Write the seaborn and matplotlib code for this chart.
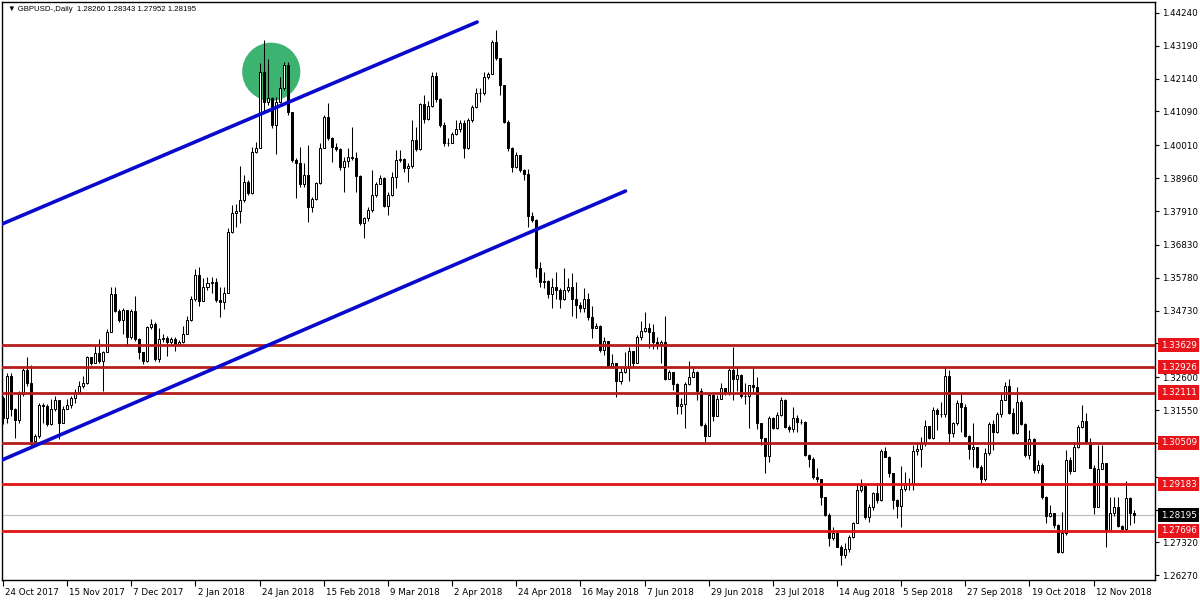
import matplotlib
matplotlib.use("Agg")
import matplotlib.pyplot as plt
import matplotlib.transforms as mtransforms
from matplotlib.patches import Ellipse
import numpy as np
import seaborn as sns

# GBPUSD daily candles (open = previous close)
first_open = 1.3195
closes = [
    1.3131, 1.3265, 1.3158, 1.3123, 1.3206, 1.3284, 1.3243, 1.3056, 1.3072, 1.3170,
    1.3168, 1.3112, 1.3158, 1.3188, 1.3115, 1.3160, 1.3170, 1.3192, 1.3213, 1.3233,
    1.3240, 1.3323, 1.3307, 1.3336, 1.3313, 1.3339, 1.3406, 1.3527, 1.3473, 1.3444,
    1.3475, 1.3388, 1.3473, 1.3382, 1.3339, 1.3313, 1.3420, 1.3430, 1.3318, 1.3382,
    1.3384, 1.3372, 1.3382, 1.3366, 1.3372, 1.3398, 1.3444, 1.3509, 1.3585, 1.3505,
    1.3547, 1.3560, 1.3564, 1.3507, 1.3501, 1.3530, 1.3725, 1.3786, 1.3792, 1.3826,
    1.3885, 1.3847, 1.3981, 1.3991, 1.4236, 1.4140, 1.4151, 1.4066, 1.4140, 1.4183,
    1.4257, 1.4108, 1.3954, 1.3943, 1.3877, 1.3906, 1.3805, 1.3828, 1.3881, 1.3991,
    1.4090, 1.4023, 1.3994, 1.3988, 1.3933, 1.3951, 1.3962, 1.3959, 1.3903, 1.3752,
    1.3768, 1.3794, 1.3842, 1.3877, 1.3895, 1.3807, 1.3842, 1.3901, 1.3954, 1.3956,
    1.3929, 1.3935, 1.4018, 1.3989, 1.4132, 1.4085, 1.4126, 1.4222, 1.4149, 1.4066,
    1.4007, 1.4008, 1.4036, 1.4053, 1.4073, 1.3993, 1.4082, 1.4124, 1.4167, 1.4168,
    1.4218, 1.4228, 1.4332, 1.4281, 1.4194, 1.4076, 1.3993, 1.3933, 1.3970, 1.3922,
    1.3908, 1.3776, 1.3763, 1.3608, 1.3565, 1.3567, 1.3525, 1.3549, 1.3539, 1.3510,
    1.3539, 1.3549, 1.3510, 1.3491, 1.3482, 1.3510, 1.3451, 1.3416, 1.3424, 1.3347,
    1.3376, 1.3296, 1.3304, 1.3249, 1.3277, 1.3288, 1.3345, 1.3307, 1.3390, 1.3409,
    1.3416, 1.3403, 1.3374, 1.3365, 1.3374, 1.3253, 1.3278, 1.3238, 1.3169, 1.3173,
    1.3238, 1.3262, 1.3278, 1.3217, 1.3107, 1.3072, 1.3203, 1.3137, 1.3189, 1.3227,
    1.3214, 1.3283, 1.3253, 1.3267, 1.3200, 1.3201, 1.3235, 1.3230, 1.3113, 1.3065,
    1.3008, 1.3129, 1.3097, 1.3139, 1.3187, 1.3102, 1.3093, 1.3129, 1.3118, 1.3117,
    1.3011, 1.2998, 1.2940, 1.2934, 1.2878, 1.2820, 1.2745, 1.2763, 1.2719, 1.2692,
    1.2710, 1.2751, 1.2795, 1.2900, 1.2913, 1.2812, 1.2846, 1.2889, 1.2868, 1.3025,
    1.3006, 1.2955, 1.2868, 1.2850, 1.2902, 1.2921, 1.2921, 1.3025, 1.3030, 1.3049,
    1.3104, 1.3065, 1.3155, 1.3141, 1.3142, 1.3264, 1.3081, 1.3113, 1.3179, 1.3166,
    1.3072, 1.3030, 1.3036, 1.2974, 1.2935, 1.3019, 1.3109, 1.3086, 1.3142, 1.3187,
    1.3232, 1.3147, 1.3081, 1.3182, 1.3109, 1.3011, 1.3062, 1.2964, 1.2980, 1.2876,
    1.2815, 1.2825, 1.2788, 1.2703, 1.2761, 1.2995, 1.2961, 1.3038, 1.3102, 1.3121,
    1.3054, 1.2971, 1.2846, 1.2966, 1.2985, 1.2770, 1.2825, 1.2846, 1.2785, 1.2774,
    1.2873, 1.2826, 1.28195,
]
highs = [
    1.3200, 1.3275, 1.3275, 1.3163, 1.3216, 1.3291, 1.3323, 1.3299, 1.3077, 1.3177,
    1.3177, 1.3174, 1.3190, 1.3200, 1.3180, 1.3168, 1.3190, 1.3200, 1.3222, 1.3249,
    1.3265, 1.3329, 1.3320, 1.3361, 1.3382, 1.3345, 1.3414, 1.3548, 1.3548, 1.3478,
    1.3480, 1.3473, 1.3478, 1.3521, 1.3384, 1.3337, 1.3425, 1.3446, 1.3436, 1.3416,
    1.3398, 1.3391, 1.3388, 1.3388, 1.3378, 1.3425, 1.3457, 1.3521, 1.3607, 1.3612,
    1.3576, 1.3579, 1.3579, 1.3576, 1.3549, 1.3549, 1.3736, 1.3810, 1.3815, 1.3935,
    1.3906, 1.3890, 1.3997, 1.4012, 1.4263, 1.4337, 1.4278, 1.4156, 1.4156, 1.4220,
    1.4268, 1.4268, 1.4098, 1.3959, 1.3997, 1.3943, 1.4002, 1.3835, 1.3885, 1.4007,
    1.4098, 1.4135, 1.4026, 1.4007, 1.3991, 1.3965, 1.3991, 1.4061, 1.3981, 1.3906,
    1.3773, 1.3805, 1.3922, 1.3885, 1.3906, 1.3901, 1.3853, 1.3917, 1.3986, 1.3986,
    1.3959, 1.3943, 1.4082, 1.4060, 1.4135, 1.4162, 1.4142, 1.4236, 1.4236, 1.4153,
    1.4076, 1.4023, 1.4044, 1.4082, 1.4082, 1.4082, 1.4087, 1.4130, 1.4183, 1.4183,
    1.4236, 1.4236, 1.4337, 1.4369, 1.4281, 1.4194, 1.4082, 1.3996, 1.3981, 1.3970,
    1.3925, 1.3925, 1.3789, 1.3767, 1.3629, 1.3597, 1.3570, 1.3576, 1.3597, 1.3544,
    1.3608, 1.3576, 1.3592, 1.3565, 1.3500, 1.3544, 1.3528, 1.3488, 1.3432, 1.3427,
    1.3390, 1.3374, 1.3335, 1.3304, 1.3296, 1.3342, 1.3356, 1.3342, 1.3395, 1.3441,
    1.3469, 1.3434, 1.3431, 1.3390, 1.3380, 1.3456, 1.3283, 1.3267, 1.3243, 1.3192,
    1.3246, 1.3313, 1.3288, 1.3281, 1.3227, 1.3113, 1.3208, 1.3195, 1.3203, 1.3243,
    1.3227, 1.3288, 1.3355, 1.3296, 1.3270, 1.3240, 1.3235, 1.3288, 1.3262, 1.3113,
    1.3065, 1.3136, 1.3134, 1.3150, 1.3198, 1.3189, 1.3108, 1.3166, 1.3139, 1.3125,
    1.3120, 1.3014, 1.3006, 1.2969, 1.2932, 1.2878, 1.2825, 1.2783, 1.2767, 1.2724,
    1.2729, 1.2756, 1.2798, 1.2923, 1.2935, 1.2910, 1.2855, 1.2894, 1.2921, 1.3030,
    1.3036, 1.3008, 1.2916, 1.2870, 1.2976, 1.2958, 1.2937, 1.3043, 1.3049, 1.3070,
    1.3123, 1.3104, 1.3166, 1.3161, 1.3182, 1.3296, 1.3283, 1.3118, 1.3187, 1.3211,
    1.3176, 1.3075, 1.3115, 1.3030, 1.2980, 1.3033, 1.3118, 1.3123, 1.3150, 1.3211,
    1.3246, 1.3253, 1.3161, 1.3230, 1.3187, 1.3113, 1.3092, 1.3065, 1.2995, 1.2985,
    1.2882, 1.2852, 1.2827, 1.2790, 1.2830, 1.3027, 1.3006, 1.3054, 1.3107, 1.3171,
    1.3145, 1.3065, 1.2980, 1.3043, 1.3043, 1.2985, 1.2878, 1.2878, 1.2878, 1.2788,
    1.2927, 1.2878, 1.28343,
]
lows = [
    1.3109, 1.3115, 1.3136, 1.3067, 1.3115, 1.3200, 1.3232, 1.3040, 1.3051, 1.3067,
    1.3115, 1.3104, 1.3106, 1.3152, 1.3061, 1.3115, 1.3158, 1.3163, 1.3179, 1.3211,
    1.3227, 1.3238, 1.3299, 1.3305, 1.3307, 1.3216, 1.3345, 1.3404, 1.3468, 1.3436,
    1.3398, 1.3361, 1.3382, 1.3375, 1.3318, 1.3302, 1.3310, 1.3414, 1.3313, 1.3310,
    1.3372, 1.3329, 1.3366, 1.3345, 1.3362, 1.3369, 1.3401, 1.3439, 1.3505, 1.3489,
    1.3507, 1.3539, 1.3528, 1.3501, 1.3453, 1.3477, 1.3528, 1.3720, 1.3741, 1.3752,
    1.3821, 1.3842, 1.3845, 1.3975, 1.3991, 1.4103, 1.4130, 1.4055, 1.3973, 1.4135,
    1.4178, 1.4098, 1.3949, 1.3832, 1.3869, 1.3869, 1.3757, 1.3789, 1.3826, 1.3877,
    1.3991, 1.4018, 1.3949, 1.3984, 1.3922, 1.3853, 1.3933, 1.3954, 1.3853, 1.3746,
    1.3704, 1.3758, 1.3789, 1.3837, 1.3877, 1.3805, 1.3778, 1.3840, 1.3863, 1.3949,
    1.3917, 1.3883, 1.3929, 1.3983, 1.3986, 1.4071, 1.4082, 1.4124, 1.4140, 1.4060,
    1.4000, 1.4000, 1.4018, 1.4033, 1.4044, 1.3959, 1.3990, 1.4076, 1.4120, 1.4140,
    1.4162, 1.4214, 1.4231, 1.4274, 1.4162, 1.4071, 1.3983, 1.3917, 1.3929, 1.3917,
    1.3890, 1.3741, 1.3757, 1.3581, 1.3549, 1.3544, 1.3512, 1.3480, 1.3510, 1.3480,
    1.3507, 1.3533, 1.3454, 1.3448, 1.3469, 1.3469, 1.3443, 1.3384, 1.3416, 1.3342,
    1.3331, 1.3293, 1.3290, 1.3198, 1.3238, 1.3275, 1.3249, 1.3288, 1.3304, 1.3380,
    1.3405, 1.3352, 1.3350, 1.3350, 1.3304, 1.3250, 1.3253, 1.3219, 1.3144, 1.3144,
    1.3097, 1.3235, 1.3262, 1.3187, 1.3104, 1.3051, 1.3072, 1.3119, 1.3136, 1.3189,
    1.3203, 1.3203, 1.3187, 1.3217, 1.3195, 1.3174, 1.3097, 1.3214, 1.3094, 1.3043,
    1.2953, 1.2990, 1.3094, 1.3094, 1.3136, 1.3097, 1.3086, 1.3086, 1.3086, 1.3110,
    1.3008, 1.2972, 1.2936, 1.2926, 1.2852, 1.2815, 1.2721, 1.2740, 1.2717, 1.2660,
    1.2681, 1.2700, 1.2745, 1.2793, 1.2892, 1.2806, 1.2799, 1.2836, 1.2857, 1.2866,
    1.3004, 1.2940, 1.2838, 1.2809, 1.2783, 1.2898, 1.2899, 1.2899, 1.3011, 1.2974,
    1.3040, 1.3062, 1.3062, 1.3091, 1.3134, 1.3134, 1.3051, 1.3070, 1.3108, 1.3086,
    1.3070, 1.2998, 1.2974, 1.2969, 1.2921, 1.2930, 1.3011, 1.3027, 1.3083, 1.3134,
    1.3187, 1.3142, 1.3078, 1.3078, 1.3107, 1.3006, 1.3000, 1.2953, 1.2953, 1.2870,
    1.2793, 1.2812, 1.2777, 1.2698, 1.2699, 1.2755, 1.2950, 1.2966, 1.3033, 1.3099,
    1.3049, 1.2969, 1.2823, 1.2844, 1.2971, 1.2719, 1.2770, 1.2815, 1.2782, 1.2770,
    1.2770, 1.2788, 1.27952,
]

date_labels = [
    "24 Oct 2017", "15 Nov 2017", "7 Dec 2017", "2 Jan 2018", "24 Jan 2018",
    "15 Feb 2018", "9 Mar 2018", "2 Apr 2018", "24 Apr 2018", "16 May 2018",
    "7 Jun 2018", "29 Jun 2018", "23 Jul 2018", "14 Aug 2018", "5 Sep 2018",
    "27 Sep 2018", "19 Oct 2018", "12 Nov 2018",
]
bars_per_label = 16

price_ticks = [1.44240, 1.43190, 1.42140, 1.41090, 1.40010, 1.38960, 1.37910,
               1.36830, 1.35780, 1.34730, 1.33680, 1.32600, 1.31550, 1.30500,
               1.29420, 1.28370, 1.27320, 1.26270]
hidden_ticks = [1.33680, 1.30500, 1.29420, 1.28370]   # covered by level boxes

levels = [1.33629, 1.32926, 1.32111, 1.30509, 1.29183, 1.27696]
level_colors = ["#b51d1d", "#b51d1d", "#b51d1d", "#b51d1d", "#e01414", "#e01414"]
last_price = 1.28195
header = "\u25bc GBPUSD-,Daily  1.28260 1.28343 1.27952 1.28195"

# channel lines (bar index, price) and the highlighted top
upper_x, upper_y = [-0.25, 118.25], [1.37495, 1.43948]
lower_x, lower_y = [-0.25, 155.25], [1.29955, 1.38549]
circle_x, circle_y = 66.9, 1.4236

closes = np.array(closes)
highs = np.array(highs)
lows = np.array(lows)
opens = np.r_[first_open, closes[:-1]]
x = np.arange(len(closes))
highs = np.maximum(highs, np.maximum(opens, closes))
lows = np.minimum(lows, np.minimum(opens, closes))

sns.set_theme(style="white")
plt.rcParams["font.family"] = ["DejaVu Sans"]

fig = plt.figure(figsize=(12, 6), dpi=100)
ax = fig.add_axes([2 / 1200, 20 / 600, 1153 / 1200, 578 / 600])
ax.set_xlim(-0.25, 287.3)
ax.set_ylim(1.26121, 1.44588)

# highlight behind the candles
ax.add_patch(Ellipse((circle_x, circle_y), width=14.5, height=0.0186,
                     color="#3cb371", zorder=1, lw=0))

# candles
ax.vlines(x, lows, highs, color="black", lw=0.75, zorder=3)
up = closes >= opens
ax.bar(x[up], closes[up] - opens[up], bottom=opens[up], width=0.5,
       color="white", edgecolor="black", linewidth=0.72, zorder=4)
ax.bar(x[~up], opens[~up] - closes[~up], bottom=closes[~up], width=0.5,
       color="black", edgecolor="black", linewidth=0.72, zorder=4)

# bid line
ax.axhline(last_price, color="#c0c0c0", lw=0.9, zorder=2)

# support / resistance levels
for lv, col in zip(levels, level_colors):
    ax.axhline(lv, color=col, lw=2, zorder=5)

# channel
sns.lineplot(x=upper_x, y=upper_y, ax=ax, color="#0a0acd", lw=2.6, zorder=6)
sns.lineplot(x=lower_x, y=lower_y, ax=ax, color="#0a0acd", lw=2.6, zorder=6)

# axes styling
for s in ax.spines.values():
    s.set_color("black")
    s.set_linewidth(1)
ax.yaxis.tick_right()
ax.set_yticks(price_ticks)
ax.set_yticklabels(["" if p in hidden_ticks else f"{p:.5f}" for p in price_ticks])
ax.set_xticks(np.arange(len(date_labels)) * bars_per_label)
ax.set_xticklabels(date_labels, ha="left")
ax.tick_params(axis="y", which="major", direction="out", length=3, width=0.8,
               pad=2, labelsize=6.3, colors="black", right=True, left=False)
ax.tick_params(axis="x", which="major", direction="out", length=4, width=0.8,
               pad=1.5, labelsize=6.3, colors="black", bottom=True)
for lab in ax.get_xticklabels():
    lab.set_transform(lab.get_transform() + mtransforms.ScaledTranslation(1.5 / 72, 0, fig.dpi_scale_trans))
ax.set_xlabel("")
ax.set_ylabel("")

# price boxes on the right axis
trans = mtransforms.blended_transform_factory(ax.transAxes, ax.transData)
for lv in levels:
    ax.annotate(f"{lv:.5f}", xy=(1.0, lv), xycoords=trans, xytext=(4, 0),
                textcoords="offset points", ha="left", va="center", fontsize=6.3,
                color="white", annotation_clip=False, zorder=10,
                bbox=dict(boxstyle="square,pad=0.3", fc="#e8141c", ec="none"))
ax.annotate(f"{last_price:.5f}", xy=(1.0, last_price), xycoords=trans, xytext=(4, 0),
            textcoords="offset points", ha="left", va="center", fontsize=6.3,
            color="white", annotation_clip=False, zorder=10,
            bbox=dict(boxstyle="square,pad=0.3", fc="black", ec="none"))

# header
ax.annotate(header, xy=(0, 1), xycoords="axes fraction", xytext=(4, -3),
            textcoords="offset points", ha="left", va="top", fontsize=5.6,
            color="black", family=["Liberation Sans", "DejaVu Sans"])

fig.savefig("out.png", dpi=100)
